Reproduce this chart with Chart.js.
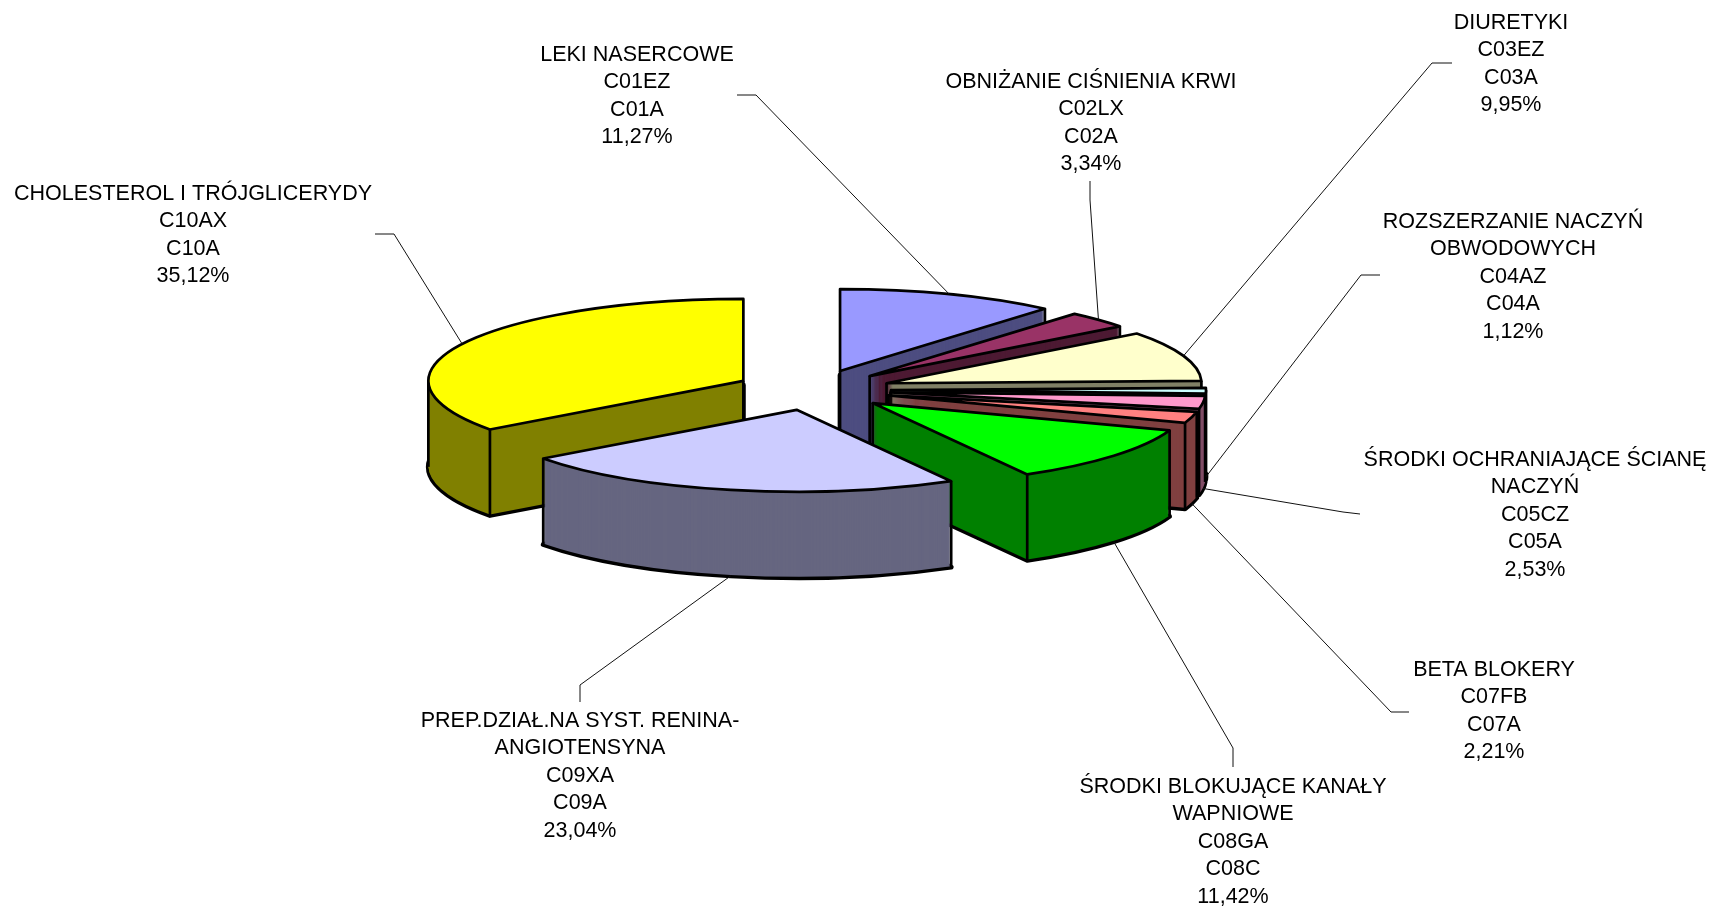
<!DOCTYPE html>
<html>
<head>
<meta charset="utf-8">
<style>
  html, body { margin: 0; padding: 0; background: #fff; overflow: hidden; }
  canvas { display: block; }
</style>
<script src="https://cdn.jsdelivr.net/npm/chart.js@4"></script>
</head>
<body>
<canvas id="pie" width="1713" height="908"></canvas>
<script>
const categories = [
  ["LEKI NASERCOWE"],
  ["OBNIŻANIE CIŚNIENIA KRWI"],
  ["DIURETYKI"],
  ["ROZSZERZANIE NACZYŃ", "OBWODOWYCH"],
  ["ŚRODKI OCHRANIAJĄCE ŚCIANĘ", "NACZYŃ"],
  ["BETA BLOKERY"],
  ["ŚRODKI BLOKUJĄCE KANAŁY", "WAPNIOWE"],
  ["PREP.DZIAŁ.NA SYST. RENINA-", "ANGIOTENSYNA"],
  ["CHOLESTEROL I TRÓJGLICERYDY"],
];
const subgroupCodes = ["C01EZ", "C02LX", "C03EZ", "C04AZ", "C05CZ", "C07FB", "C08GA", "C09XA", "C10AX"];
const groupCodes = ["C01A", "C02A", "C03A", "C04A", "C05A", "C07A", "C08C", "C09A", "C10A"];
const shares = [11.27, 3.34, 9.95, 1.12, 2.53, 2.21, 11.42, 23.04, 35.12];

const topColors = ["#9999FF", "#993366", "#FFFFCC", "#CCFFFF", "#FF99CC", "#FF8080", "#00FF00", "#CCCCFF", "#FFFF00"];
const sideColors = ["#4D4D80", "#4D1A33", "#808066", "#668080", "#804D66", "#804040", "#008000", "#666680", "#808000"];

// label block centre (x, y of first line) and the elbow of each leader line
const labelAt = [[637, 55], [1091, 82], [1511, 23], [1513, 222], [1535, 460], [1494, 670], [1233, 787], [580, 721], [193, 194]];
const leaderFrom = [[737, 95], [1090, 181], [1452, 63], [1380, 275], [1360, 514], [1409, 712], [1233, 767], [580, 702], [375, 234]];
const leaderElbow = [[756, 95], [1090, 200], [1432, 63], [1361, 275], [1343, 512], [1391, 712], [1233, 748], [580, 685], [394, 234]];

const TILT = 0.26;
const DEPTH = 86;
const EXPLODE = 78;
const LINE_H = 27.4;

function place(ctx, arc, dz) {
  const mid = (arc.startAngle + arc.endAngle) / 2;
  ctx.translate(arc.x + Math.cos(mid) * EXPLODE, arc.y + Math.sin(mid) * EXPLODE * TILT + dz);
  ctx.scale(1, TILT);
  ctx.translate(-arc.x, -arc.y);
}

function fillFace(ctx, arc, dz, color) {
  const saved = arc.options;
  arc.options = Object.assign({}, saved, { backgroundColor: color });
  ctx.save();
  place(ctx, arc, dz);
  arc.draw(ctx);
  ctx.restore();
  arc.options = saved;
}

// path goes through the tilted transform, the stroke does not, so lines keep an even width
function strokeFace(ctx, arc, dz, width) {
  ctx.save();
  place(ctx, arc, dz);
  ctx.beginPath();
  ctx.moveTo(arc.x, arc.y);
  ctx.arc(arc.x, arc.y, arc.outerRadius, arc.startAngle, arc.endAngle);
  ctx.closePath();
  ctx.restore();
  ctx.lineWidth = width;
  ctx.lineJoin = "round";
  ctx.strokeStyle = "#000";
  ctx.stroke();
}

function pointOnSlice(arc, angle, r) {
  const mid = (arc.startAngle + arc.endAngle) / 2;
  return {
    x: arc.x + Math.cos(mid) * EXPLODE + Math.cos(angle) * r,
    y: arc.y + Math.sin(mid) * EXPLODE * TILT + Math.sin(angle) * r * TILT,
  };
}

// true if the spot just under a corner still lies on the slice's top face
function coveredByTop(arc, p) {
  const mid = (arc.startAngle + arc.endAngle) / 2;
  const dx = p.x - (arc.x + Math.cos(mid) * EXPLODE);
  const dy = (p.y + 3 - (arc.y + Math.sin(mid) * EXPLODE * TILT)) / TILT;
  if (Math.hypot(dx, dy) >= arc.outerRadius) return false;
  let a = Math.atan2(dy, dx);
  while (a < arc.startAngle) a += Math.PI * 2;
  return a <= arc.endAngle;
}

function verticalEdge(ctx, arc, p) {
  if (coveredByTop(arc, p)) return;
  ctx.beginPath();
  ctx.moveTo(p.x, p.y);
  ctx.lineTo(p.x, p.y + DEPTH);
  ctx.lineWidth = 2.7;
  ctx.strokeStyle = "#000";
  ctx.stroke();
}

const tiltedPie = {
  id: "tiltedPie",
  beforeDatasetsDraw(chart) {
    const ctx = chart.ctx;
    const arcs = chart.getDatasetMeta(0).data;
    const order = arcs
      .map((arc, i) => i)
      .sort((a, b) => Math.sin((arcs[a].startAngle + arcs[a].endAngle) / 2) - Math.sin((arcs[b].startAngle + arcs[b].endAngle) / 2));

    order.forEach((i) => {
      const arc = arcs[i];
      strokeFace(ctx, arc, DEPTH, 4.8);
      for (let dz = DEPTH - 1; dz > 0; dz--) fillFace(ctx, arc, dz, sideColors[i]);

      verticalEdge(ctx, arc, pointOnSlice(arc, 0, 0));
      verticalEdge(ctx, arc, pointOnSlice(arc, arc.startAngle, arc.outerRadius));
      verticalEdge(ctx, arc, pointOnSlice(arc, arc.endAngle, arc.outerRadius));
      // left and right extremes of the ellipse
      [0, Math.PI, Math.PI * 2].forEach((a) => {
        if (a > arc.startAngle && a < arc.endAngle) {
          verticalEdge(ctx, arc, pointOnSlice(arc, a, arc.outerRadius));
        }
      });

      fillFace(ctx, arc, 0, topColors[i]);
      strokeFace(ctx, arc, 0, 2.7);
    });
    return false;
  },
  afterDraw(chart) {
    const ctx = chart.ctx;
    const arcs = chart.getDatasetMeta(0).data;
    ctx.save();
    arcs.forEach((arc, i) => {
      const mid = (arc.startAngle + arc.endAngle) / 2;
      const p = pointOnSlice(arc, mid, arc.outerRadius);
      if (Math.sin(mid) > 0) p.y += DEPTH;
      ctx.beginPath();
      ctx.moveTo(leaderFrom[i][0], leaderFrom[i][1]);
      ctx.lineTo(leaderElbow[i][0], leaderElbow[i][1]);
      ctx.lineTo(p.x, p.y);
      ctx.lineWidth = 1;
      ctx.strokeStyle = "#111";
      ctx.stroke();

      const lines = categories[i].concat([subgroupCodes[i], groupCodes[i], shares[i].toFixed(2).replace(".", ",") + "%"]);
      ctx.font = '21.5px "Liberation Sans", Arial, sans-serif';
      ctx.fillStyle = "#000";
      ctx.textAlign = "center";
      ctx.textBaseline = "middle";
      lines.forEach((line, n) => ctx.fillText(line, labelAt[i][0], labelAt[i][1] + n * LINE_H));
    });
    ctx.restore();
  },
};

new Chart(document.getElementById("pie"), {
  type: "pie",
  data: {
    labels: categories.map((c) => c.join(" ")),
    datasets: [{ data: shares, backgroundColor: topColors, borderWidth: 0, clip: false }],
  },
  options: {
    responsive: false,
    animation: false,
    radius: 315,
    layout: { padding: { left: 0, top: 0, right: 87, bottom: 128 } },
    plugins: { legend: { display: false }, tooltip: { enabled: false } },
  },
  plugins: [tiltedPie],
});
</script>
</body>
</html>
